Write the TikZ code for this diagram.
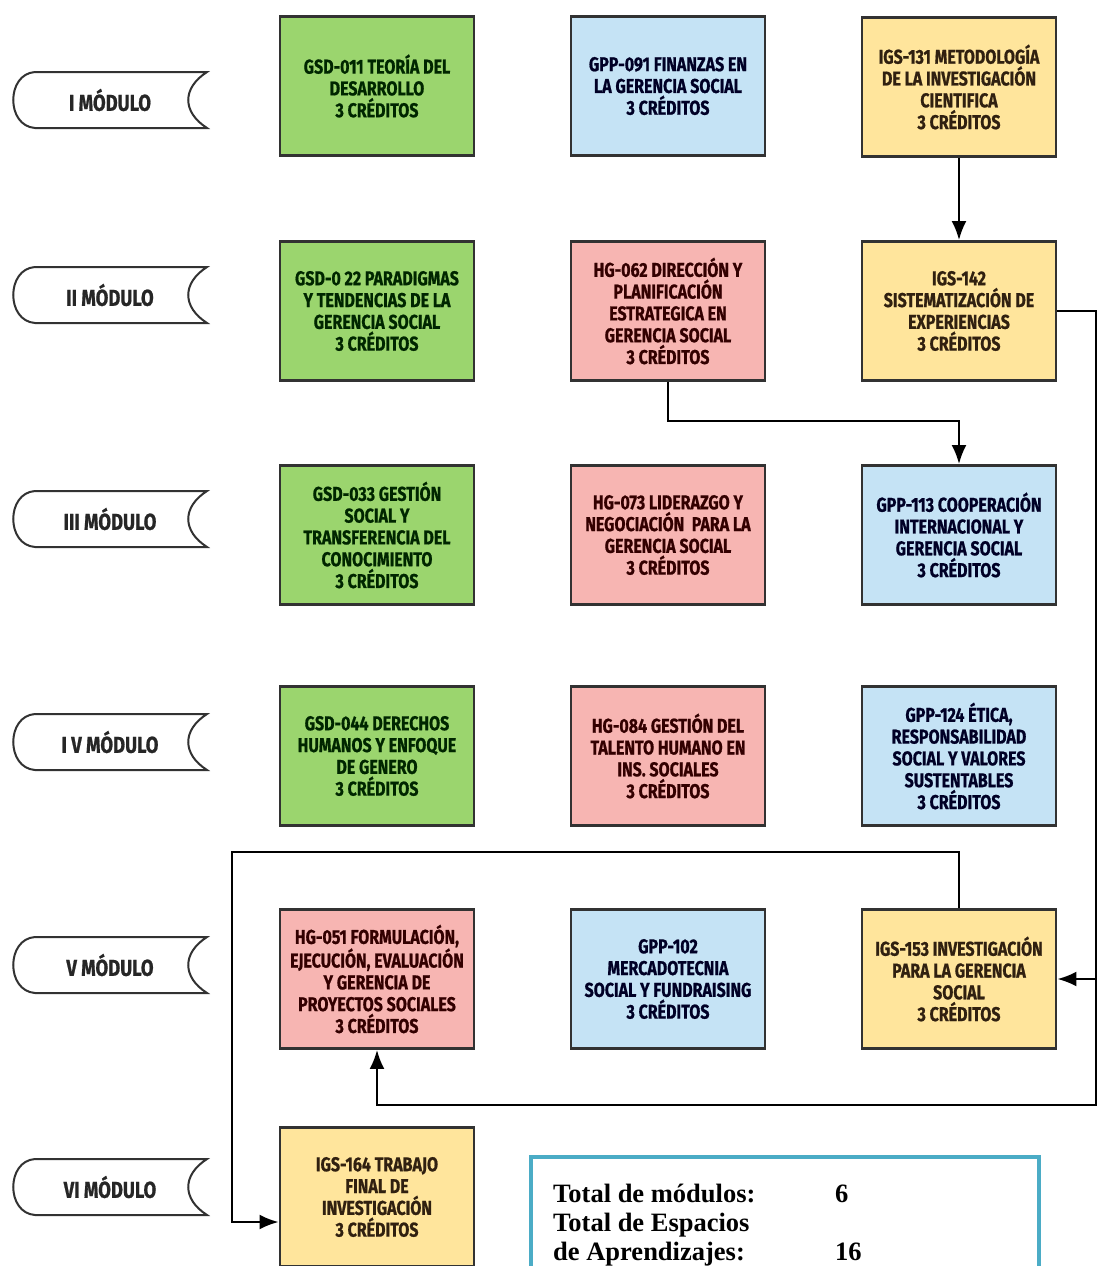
\documentclass[tikz,border=0pt]{standalone}
\usepackage{fontspec}
\setmainfont{Liberation Serif}
\newfontfamily\cursofont[FakeStretch=0.8,FakeBold=0.8]{Fira Sans}
\usetikzlibrary{calc}
\usetikzlibrary{arrows.meta}
\definecolor{verde}{RGB}{155,213,110}
\definecolor{celeste}{RGB}{197,227,245}
\definecolor{rosa}{RGB}{247,181,178}
\definecolor{amarillo}{RGB}{255,229,156}
\definecolor{turquesa}{RGB}{75,172,198}
\definecolor{borde}{RGB}{50,50,50}

\begin{document}
\begin{tikzpicture}[x=1pt, y=-1pt,
 curso/.style={draw=borde, line width=2.8pt, minimum width=194pt, minimum height=139pt, inner sep=0pt, align=center, font=\cursofont\bfseries\fontsize{20}{21.8}\selectfont},
 verdebox/.style={curso, fill=verde, text=green!15!black},
 celestebox/.style={curso, fill=celeste, text=blue!15!black},
 rosabox/.style={curso, fill=rosa, text=red!20!black},
 amarillobox/.style={curso, fill=amarillo, text=brown!25!black},
 modulo/.style={draw=borde, line width=2pt, fill=white},
 modtxt/.style={font=\cursofont\bfseries\fontsize{23}{24}\selectfont, text=black!85},
 flecha/.style={black, line width=2.4pt, -{Latex[length=19pt,width=15pt]}},
 totales/.style={anchor=base west, inner sep=0pt, font=\bfseries\fontsize{26.5}{29}\selectfont}]
\useasboundingbox (0,0) rectangle (1098,1266);
\clip (0,0) rectangle (1098,1266);
\fill[white] (0,0) rectangle (1098,1266);

% modulos
\foreach \y/\txt [count=\i] in {100/I MÓDULO, 295/II MÓDULO, 519/III MÓDULO, 742/I V MÓDULO, 965/V MÓDULO, 1187/VI MÓDULO} {
 \draw[modulo] (35,\y-28) -- (207,\y-28) .. controls (182,\y-12) and (182,\y+12) .. (207,\y+28) -- (35,\y+28) .. controls (6,\y+26) and (6,\y-26) .. (35,\y-28) -- cycle;
 \node[modtxt] (mod\i) at (110,\y) {\txt};
}

% I modulo
\node[verdebox] (gsd011) at (377,86) {GSD-011 TEORÍA DEL\\DESARROLLO\\3 CRÉDITOS};
\node[celestebox] (gpp091) at (668,86) {GPP-091 FINANZAS EN\\LA GERENCIA SOCIAL\\3 CRÉDITOS};
\node[amarillobox] (igs131) at (959,87) {IGS-131 METODOLOGÍA\\DE LA INVESTIGACIÓN\\CIENTIFICA\\3 CRÉDITOS};
% II modulo
\node[verdebox] (gsd022) at (377,311) {GSD-0 22 PARADIGMAS\\Y TENDENCIAS DE LA\\GERENCIA SOCIAL\\3 CRÉDITOS};
\node[rosabox] (hg062) at (668,311) {HG-062 DIRECCIÓN Y\\PLANIFICACIÓN\\ESTRATEGICA EN\\GERENCIA SOCIAL\\3 CRÉDITOS};
\node[amarillobox] (igs142) at (959,311) {IGS-142\\SISTEMATIZACIÓN DE\\EXPERIENCIAS\\3 CRÉDITOS};
% III modulo
\node[verdebox] (gsd033) at (377,535) {GSD-033 GESTIÓN\\SOCIAL Y\\TRANSFERENCIA DEL\\CONOCIMIENTO\\3 CRÉDITOS};
\node[rosabox] (hg073) at (668,535) {HG-073 LIDERAZGO Y\\NEGOCIACIÓN \ PARA LA\\GERENCIA SOCIAL\\3 CRÉDITOS};
\node[celestebox] (gpp113) at (959,535) {GPP-113 COOPERACIÓN\\INTERNACIONAL Y\\GERENCIA SOCIAL\\3 CRÉDITOS};
% IV modulo
\node[verdebox] (gsd044) at (377,756) {GSD-044 DERECHOS\\HUMANOS Y ENFOQUE\\DE GENERO\\3 CRÉDITOS};
\node[rosabox] (hg084) at (668,756) {HG-084 GESTIÓN DEL\\TALENTO HUMANO EN\\INS. SOCIALES\\3 CRÉDITOS};
\node[celestebox] (gpp124) at (959,756) {GPP-124 ÉTICA,\\RESPONSABILIDAD\\SOCIAL Y VALORES\\SUSTENTABLES\\3 CRÉDITOS};
% V modulo
\node[rosabox] (hg051) at (377,979) {HG-051 FORMULACIÓN,\\EJECUCIÓN, EVALUACIÓN\\Y GERENCIA DE\\PROYECTOS SOCIALES\\3 CRÉDITOS};
\node[celestebox] (gpp102) at (668,979) {GPP-102\\MERCADOTECNIA\\SOCIAL Y FUNDRAISING\\3 CRÉDITOS};
\node[amarillobox] (igs153) at (959,979) {IGS-153 INVESTIGACIÓN\\PARA LA GERENCIA\\SOCIAL\\3 CRÉDITOS};
% VI modulo
\node[amarillobox] (igs164) at (377,1197) {IGS-164 TRABAJO\\FINAL DE\\INVESTIGACIÓN\\3 CRÉDITOS};

% conexiones
\coordinate (der) at (1096,1105);
\coordinate (arr) at (232,852);
\coordinate (aba) at (232,1222);
\draw[flecha] (igs131) -- (igs142);
\draw[flecha] (hg062.south) -- ++(0,39) -| (gpp113.north);
\draw[flecha] (igs142.east) -| (der) -| (hg051.south);
\draw[flecha] (der |- igs153.east) -- (igs153.east);
\draw[flecha] (igs153.north) |- (arr) -- (aba) -- (igs164.west |- aba);

% totales
\node[draw=turquesa, line width=4pt, minimum width=508pt, minimum height=136pt] (leyenda) at (785,1225) {};
\node[totales] (tmod) at (553,1202) {Total de módulos:};
\node[totales] (nmod) at (835,1202) {6};
\node[totales] (tesp) at (553,1231) {Total de Espacios};
\node[totales] (tapr) at (553,1260) {de Aprendizajes:};
\node[totales] (napr) at (835,1260) {16};
\end{tikzpicture}
\end{document}
